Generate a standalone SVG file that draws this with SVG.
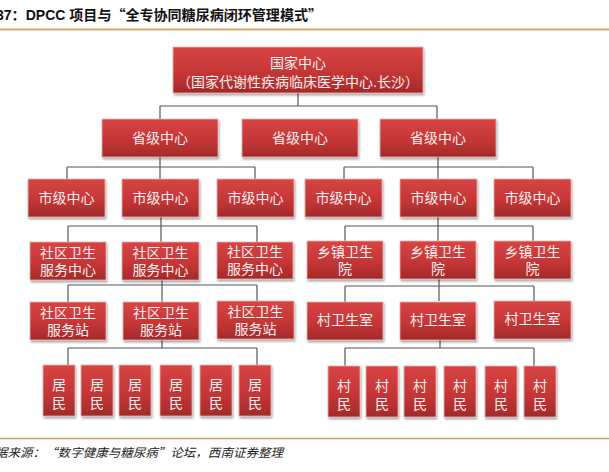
<svg xmlns="http://www.w3.org/2000/svg" width="609" height="472" viewBox="0 0 609 472">
<defs>
<linearGradient id="g" x1="0" y1="0" x2="0" y2="1">
<stop offset="0" stop-color="#d84444"/>
<stop offset="0.55" stop-color="#c53636"/>
<stop offset="1" stop-color="#a32a2a"/>
</linearGradient>
<filter id="sh" x="-20%" y="-20%" width="140%" height="150%">
<feDropShadow dx="1" dy="2" stdDeviation="1.2" flood-color="#000" flood-opacity="0.35"/>
</filter>
<style>
.b{fill:url(#g);stroke:#e9b2b2;stroke-width:0.8;filter:url(#sh)}
.t{fill:#fbeeee;font-family:"Liberation Sans","Noto Sans CJK SC",sans-serif;font-size:14px;text-anchor:middle}
.c{fill:none;stroke:#555;stroke-width:1.2}
</style>
</defs>
<rect width="609" height="472" fill="#fff"/>
<text x="-4" y="20" font-family="'Liberation Sans','Noto Sans CJK SC',sans-serif" font-size="14" font-weight="bold" fill="#111" textLength="326" lengthAdjust="spacingAndGlyphs">37：DPCC <tspan font-family="'Noto Sans CJK SC',sans-serif">项目与“全专协同糖尿病闭环管理模式”</tspan></text>
<line x1="0" y1="29.5" x2="609" y2="29.5" stroke="#d9a866" stroke-width="2"/>
<line x1="0" y1="438.5" x2="609" y2="438.5" stroke="#c9a46a" stroke-width="1.5"/>
<text x="-5" y="457" font-family="'Noto Sans CJK SC',sans-serif" font-size="12" font-style="italic" fill="#222" textLength="288" lengthAdjust="spacingAndGlyphs">据来源：“数字健康与糖尿病”论坛，西南证券整理</text>

<g id="connectors">
<path class="c" d="M298 93V106M160 106H437M160 106V119M437 106V119"/>
<path class="c" d="M160 157V179M67 167H255M67 167V179M255 167V179"/>
<path class="c" d="M438 157V179M344 167H533M344 167V179M533 167V179"/>
<path class="c" d="M161 217V242M68 226H257M68 226V242M257 226V242"/>
<path class="c" d="M438 217V241M345 226H533M345 226V241M533 226V241"/>
<path class="c" d="M162 280V302M68 285H257M68 285V302M257 285V302"/>
<path class="c" d="M439 279V301M345 286H534M345 286V302M534 286V301"/>
<path class="c" d="M162 340V348M68 348H257M68 348V365M257 348V365"/>
<path class="c" d="M440 339V348M345 348H534M345 348V366M534 348V366"/>
</g>

<g id="national"><rect class="b" x="173" y="47" width="250" height="46"/><text class="t" x="298" y="68">国家中心</text><text class="t" x="298" y="87">（国家代谢性疾病临床医学中心.长沙）</text></g>

<g id="prov1"><rect class="b" x="102" y="119" width="116" height="38"/><text class="t" x="160" y="143">省级中心</text></g>
<g id="prov2"><rect class="b" x="242" y="119" width="116" height="38"/><text class="t" x="300" y="143">省级中心</text></g>
<g id="prov3"><rect class="b" x="380" y="119" width="116" height="38"/><text class="t" x="438" y="143">省级中心</text></g>

<g id="city1"><rect class="b" x="28" y="179" width="77" height="38"/><text class="t" x="66.5" y="203">市级中心</text></g>
<g id="city2"><rect class="b" x="122" y="179" width="77" height="38"/><text class="t" x="160.5" y="203">市级中心</text></g>
<g id="city3"><rect class="b" x="217" y="179" width="77" height="38"/><text class="t" x="255.5" y="203">市级中心</text></g>
<g id="city4"><rect class="b" x="305" y="179" width="77" height="38"/><text class="t" x="343.5" y="203">市级中心</text></g>
<g id="city5"><rect class="b" x="400" y="179" width="77" height="38"/><text class="t" x="438.5" y="203">市级中心</text></g>
<g id="city6"><rect class="b" x="494" y="179" width="77" height="38"/><text class="t" x="532.5" y="203">市级中心</text></g>

<g id="chc1"><rect class="b" x="30" y="242" width="76" height="38"/><text class="t" x="68" y="258">社区卫生</text><text class="t" x="68" y="275">服务中心</text></g>
<g id="chc2"><rect class="b" x="122" y="242" width="77" height="38"/><text class="t" x="160.5" y="258">社区卫生</text><text class="t" x="160.5" y="275">服务中心</text></g>
<g id="chc3"><rect class="b" x="217" y="242" width="76" height="37"/><text class="t" x="255" y="257">社区卫生</text><text class="t" x="255" y="274">服务中心</text></g>
<g id="town1"><rect class="b" x="307" y="241" width="76" height="38"/><text class="t" x="345" y="257">乡镇卫生</text><text class="t" x="345" y="274">院</text></g>
<g id="town2"><rect class="b" x="400" y="241" width="76" height="38"/><text class="t" x="438" y="257">乡镇卫生</text><text class="t" x="438" y="274">院</text></g>
<g id="town3"><rect class="b" x="494" y="241" width="77" height="38"/><text class="t" x="532.5" y="257">乡镇卫生</text><text class="t" x="532.5" y="274">院</text></g>

<g id="chs1"><rect class="b" x="30" y="302" width="76" height="38"/><text class="t" x="68" y="318">社区卫生</text><text class="t" x="68" y="335">服务站</text></g>
<g id="chs2"><rect class="b" x="123" y="302" width="76" height="38"/><text class="t" x="161" y="318">社区卫生</text><text class="t" x="161" y="335">服务站</text></g>
<g id="chs3"><rect class="b" x="217" y="301" width="77" height="38"/><text class="t" x="255.5" y="317">社区卫生</text><text class="t" x="255.5" y="334">服务站</text></g>
<g id="vil1"><rect class="b" x="307" y="302" width="76" height="38"/><text class="t" x="345" y="325">村卫生室</text></g>
<g id="vil2"><rect class="b" x="400" y="302" width="76" height="38"/><text class="t" x="438" y="325">村卫生室</text></g>
<g id="vil3"><rect class="b" x="494" y="301" width="77" height="38"/><text class="t" x="532.5" y="324">村卫生室</text></g>

<g id="res1"><rect class="b" x="43" y="365" width="32" height="51"/><text class="t" x="59" y="390">居</text><text class="t" x="59" y="408">民</text></g>
<g id="res2"><rect class="b" x="81" y="365" width="32" height="51"/><text class="t" x="97" y="390">居</text><text class="t" x="97" y="408">民</text></g>
<g id="res3"><rect class="b" x="119" y="365" width="32" height="51"/><text class="t" x="135" y="390">居</text><text class="t" x="135" y="408">民</text></g>
<g id="res4"><rect class="b" x="160" y="365" width="32" height="51"/><text class="t" x="176" y="390">居</text><text class="t" x="176" y="408">民</text></g>
<g id="res5"><rect class="b" x="200" y="365" width="32" height="51"/><text class="t" x="216" y="390">居</text><text class="t" x="216" y="408">民</text></g>
<g id="res6"><rect class="b" x="239" y="365" width="32" height="51"/><text class="t" x="255" y="390">居</text><text class="t" x="255" y="408">民</text></g>

<g id="vr1"><rect class="b" x="328" y="366" width="32" height="51"/><text class="t" x="344" y="391">村</text><text class="t" x="344" y="409">民</text></g>
<g id="vr2"><rect class="b" x="366" y="366" width="32" height="51"/><text class="t" x="382" y="391">村</text><text class="t" x="382" y="409">民</text></g>
<g id="vr3"><rect class="b" x="404" y="366" width="32" height="51"/><text class="t" x="420" y="391">村</text><text class="t" x="420" y="409">民</text></g>
<g id="vr4"><rect class="b" x="444" y="366" width="32" height="51"/><text class="t" x="460" y="391">村</text><text class="t" x="460" y="409">民</text></g>
<g id="vr5"><rect class="b" x="485" y="366" width="32" height="51"/><text class="t" x="501" y="391">村</text><text class="t" x="501" y="409">民</text></g>
<g id="vr6"><rect class="b" x="524" y="366" width="32" height="51"/><text class="t" x="540" y="391">村</text><text class="t" x="540" y="409">民</text></g>
</svg>
